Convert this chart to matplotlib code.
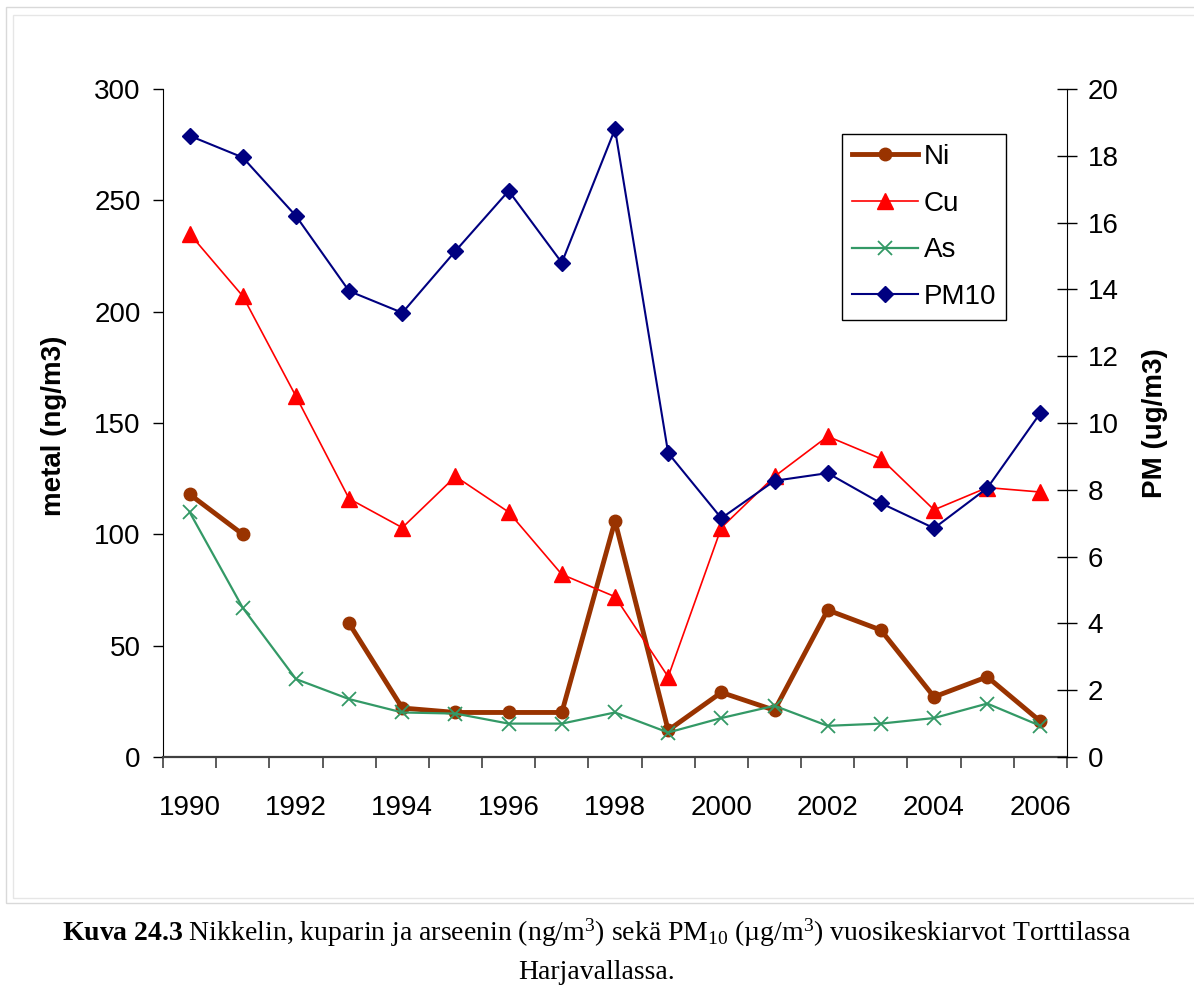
import numpy as np
import matplotlib
matplotlib.use("Agg")
import matplotlib.pyplot as plt
from matplotlib.patches import Rectangle
from matplotlib.ticker import FixedLocator, NullFormatter

plt.rcParams['font.family'] = ['Liberation Sans', 'DejaVu Sans']
plt.rcParams['mathtext.fontset'] = 'custom'
plt.rcParams['mathtext.rm'] = 'Liberation Serif'
plt.rcParams['mathtext.bf'] = 'Liberation Serif:bold'
plt.rcParams['mathtext.it'] = 'Liberation Serif:italic'

years = list(range(1990, 2007))
ni = [118, 100, np.nan, 60, 22, 20, 20, 20, 106, 12, 29, 21, 66, 57, 27, 36, 16]
cu = [235, 207, 162, 116, 103, 126, 110, 82, 72, 36, 103, 126, 144, 134, 111, 121, 119]
as_ = [110, 67, 35, 26, 20, 19.5, 15, 15, 20, 11, 17.5, 23, 14, 15, 17.5, 24, 14]
pm10 = [18.6, 17.95, 16.2, 13.95, 13.3, 15.15, 16.95, 14.8, 18.8, 9.1, 7.15, 8.27, 8.5, 7.6, 6.85, 8.05, 10.3]
year_labels = [str(y) for y in years[::2]]

fig = plt.figure(figsize=(11.94, 9.96), dpi=100)

# page frames
fig.patches.append(Rectangle((6/1194, 1-903/996), 1.2, (903-7)/996, transform=fig.transFigure,
                             fill=False, edgecolor='#d9d9d9', lw=1))
fig.patches.append(Rectangle((13/1194, 1-898/996), 1.2, (898-15)/996, transform=fig.transFigure,
                             fill=False, edgecolor='#e6e6e6', lw=1))

ax = fig.add_axes([163/1194, 1-757/996, (1067-163)/1194, (757-89)/996])
ax2 = ax.twinx()

x = np.arange(len(years))
l_ni, = ax.plot(x, ni, color='#993300', lw=3.5, marker='o', ms=9, label='Ni')
l_cu, = ax.plot(x, cu, color='#ff0000', lw=1.2, marker='^', ms=11, label='Cu')
l_as, = ax.plot(x, as_, color='#339966', lw=1.6, marker='x', ms=10, mew=1.3, label='As')
l_pm, = ax2.plot(x, pm10, color='#000080', lw=1.5, marker='D', ms=8, label='PM10')

ax.set_xlim(-0.5, len(years) - 0.5)
ax.set_ylim(0, 300)
ax2.set_ylim(0, 20)
ax.set_yticks(np.arange(0, 301, 50))
ax2.set_yticks(np.arange(0, 21, 2))

ax.xaxis.set_major_locator(FixedLocator(np.arange(-0.5, len(years), 1)))
ax.xaxis.set_major_formatter(NullFormatter())
ax.xaxis.set_minor_locator(FixedLocator(x[::2]))
ax.set_xticklabels(year_labels, minor=True)
ax.tick_params(axis='x', which='major', direction='out', length=8, width=1.2, color='#404040')
ax.tick_params(axis='x', which='minor', length=0, pad=27, labelsize=20)
ax.tick_params(axis='y', direction='out', length=7, width=1, pad=9, labelsize=20)
ax2.tick_params(axis='y', direction='inout', length=14, width=1, pad=8, labelsize=20)

for a in (ax, ax2):
    a.spines['top'].set_visible(False)
    a.patch.set_visible(False)
ax.spines['bottom'].set_color('#404040')
ax.spines['bottom'].set_linewidth(1.6)
ax2.spines['bottom'].set_visible(False)
ax.spines['right'].set_visible(False)
ax2.spines['left'].set_visible(False)

fig.text(54/1194, 1-426/996, 'metal (ng/m3)', rotation=90, ha='center', va='center',
         fontsize=20, fontweight='bold')
fig.text(1155/1194, 1-423/996, 'PM (ug/m3)', rotation=90, ha='center', va='center',
         fontsize=20, fontweight='bold')

leg = ax2.legend(handles=[l_ni, l_cu, l_as, l_pm], loc='upper left',
                 bbox_to_anchor=(842/1194, 1-134/996), bbox_transform=fig.transFigure,
                 borderaxespad=0, fancybox=False, edgecolor='black', framealpha=1,
                 fontsize=20, handlelength=2.4, handletextpad=0.2, labelspacing=0.75,
                 borderpad=0.35)
leg.get_frame().set_linewidth(1.0)

fig.text(0.5, 1-933/996,
         r"$\mathbf{Kuva\ 24.3}$ Nikkelin, kuparin ja arseenin (ng/m$^3$) sekä PM$_{10}$ (µg/m$^3$) vuosikeskiarvot Torttilassa",
         ha='center', va='center', fontsize=20, family='Liberation Serif')
fig.text(0.5, 1-972/996, 'Harjavallassa.', ha='center', va='center', fontsize=20,
         family='Liberation Serif')

fig.savefig('out.png', dpi=100)
